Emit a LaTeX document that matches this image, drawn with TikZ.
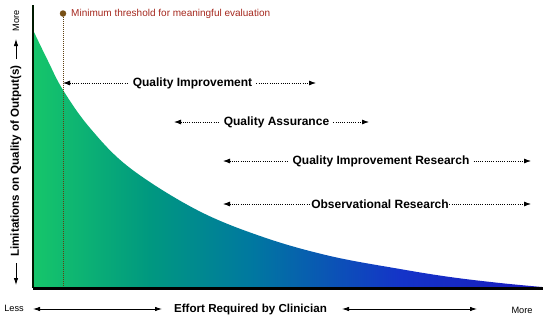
\documentclass[tikz,border=0pt]{standalone}
\usepackage{fontspec}
\setmainfont{Liberation Sans}
\usetikzlibrary{arrows.meta}
\definecolor{gA}{RGB}{22,198,106}
\definecolor{gB}{RGB}{0,152,128}
\definecolor{gC}{RGB}{0,120,160}
\definecolor{gD}{RGB}{20,52,200}
\definecolor{gE}{RGB}{25,25,190}
\definecolor{thrred}{RGB}{165,40,30}
\definecolor{thrdot}{RGB}{120,80,20}
\pgfdeclarehorizontalshading{effortshade}{100bp}{color(0bp)=(gA); color(25bp)=(gA); color(36.5bp)=(gB); color(46.5bp)=(gC); color(61bp)=(gD); color(75bp)=(gE); color(100bp)=(gE)}
\tikzset{
  lbl/.style={font=\fontsize{12}{14}\selectfont\bfseries, inner ysep=1pt, inner xsep=4pt},
  axlbl/.style={font=\fontsize{11.6}{14}\selectfont\bfseries, inner sep=1pt},
  small/.style={font=\fontsize{9.2}{11}\selectfont, inner sep=1pt},
  rng/.style={line width=0.8pt, dash pattern=on 0.8pt off 1.4pt, black},
  tipL/.style={{Latex[length=7pt,width=5pt]}-},
  tipR/.style={-{Latex[length=7pt,width=5pt]}},
  solidarr/.style={line width=0.8pt, {Latex[length=7pt,width=4.5pt]}-{Latex[length=7pt,width=4.5pt]}},
}
\begin{document}
\begin{tikzpicture}[x=1pt,y=-1pt]
\useasboundingbox (0,0) rectangle (550,322);
% gradient area
\shade[shading=effortshade]
  (33,288) -- plot[smooth, tension=0.6] coordinates {(33,30) (48,61) (63,90) (90,128) (130,168) (197,210) (263,237) (330,256) (400,269) (450,277) (500,283) (542,287)} -- (542,288) -- cycle;
% axes
\coordinate (ytop) at (33,5);
\coordinate (orig) at (33,288);
\coordinate (xend) at (543,288);
\draw[line width=2.5pt, black!90!green] (ytop) -- (orig);
\draw[line width=3pt, black] (orig) -- (xend);
% threshold
\node[circle, fill=thrdot, inner sep=0pt, minimum size=6.5pt] (dot) at (63,13.5) {};
\node[anchor=west, text=thrred, font=\fontsize{10}{12}\selectfont, inner sep=1pt] (thr) at (70,13.5) {Minimum threshold for meaningful evaluation};
\coordinate (dotbot) at (63,286);
\draw[thrdot!80!black, line width=0.7pt, dash pattern=on 0.7pt off 1.3pt] (dot) -- (dotbot);
% ranges
\node[lbl] (qi) at (192.5,83) {Quality Improvement};
\coordinate (qiL) at (63,83); \coordinate (qiR) at (316,83);
\draw[rng,tipL] (qiL) -- (qi.west);
\draw[rng,tipR] (qi.east) -- (qiR);
\node[lbl] (qa) at (276.5,122) {Quality Assurance};
\coordinate (qaL) at (174,122); \coordinate (qaR) at (369,122);
\draw[rng,tipL] (qaL) -- (qa.west);
\draw[rng,tipR] (qa.east) -- (qaR);
\node[lbl] (qir) at (381,161) {Quality Improvement Research};
\coordinate (qirL) at (223,161); \coordinate (qirR) at (531,161);
\draw[rng,tipL] (qirL) -- (qir.west);
\draw[rng,tipR] (qir.east) -- (qirR);
\node[lbl, inner xsep=0.5pt] (obs) at (380,204) {Observational Research};
\coordinate (obsL) at (223,204); \coordinate (obsR) at (531,204);
\draw[rng,tipL] (obsL) -- (obs.west);
\draw[rng,tipR] (obs.east) -- (obsR);
% y axis label
\node[small, rotate=90] (ymore) at (16,21) {More};
\coordinate (yu1) at (16,59); \coordinate (yu2) at (16,39);
\draw[line width=0.8pt, -{Latex[length=7pt,width=4.5pt]}] (yu1) -- (yu2);
\node[axlbl, rotate=90] (ylab) at (16,161) {Limitations on Quality of Output(s)};
\coordinate (yd1) at (16,263); \coordinate (yd2) at (16,285);
\draw[line width=0.8pt, -{Latex[length=7pt,width=4.5pt]}] (yd1) -- (yd2);
% x axis label
\node[small] (less) at (14,308) {Less};
\node[axlbl] (xlab) at (250.5,309) {Effort Required by Clinician};
\node[small] (xmore) at (522,310) {More};
\coordinate (xa1) at (33,309); \coordinate (xa2) at (162,309);
\coordinate (xb1) at (342,309); \coordinate (xb2) at (477,309);
\draw[solidarr] (xa1) -- (xa2);
\draw[solidarr] (xb1) -- (xb2);
\end{tikzpicture}
\end{document}
